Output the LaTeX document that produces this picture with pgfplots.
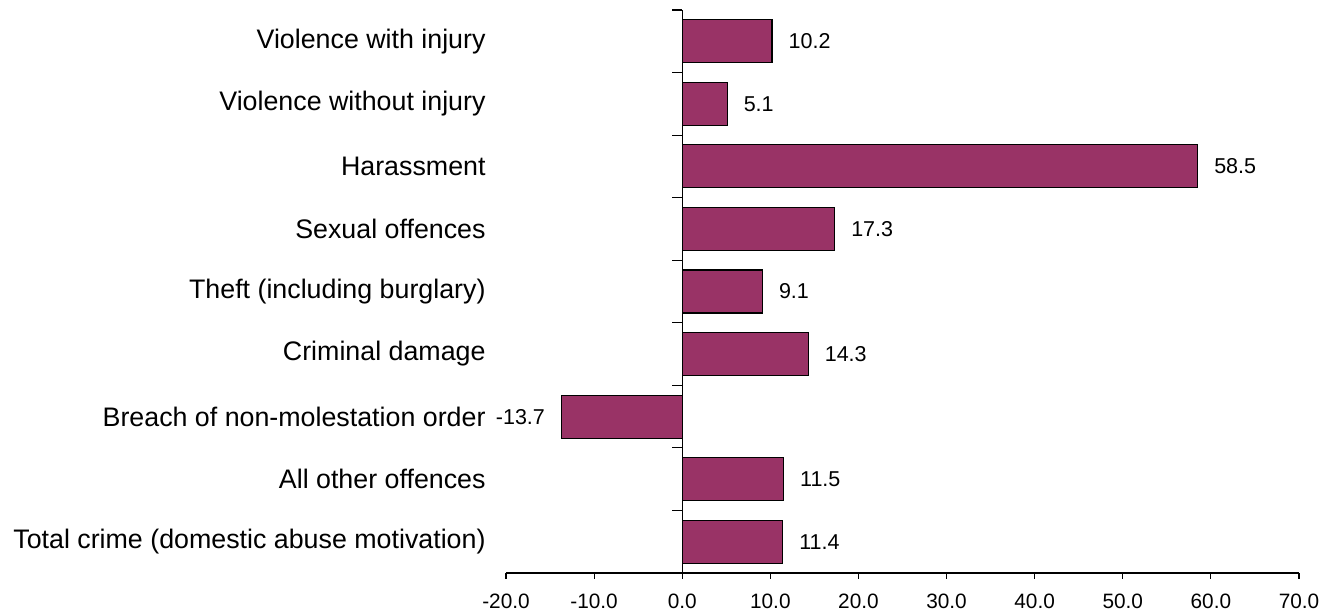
\documentclass[border=0pt]{standalone}
\usepackage{fontspec}
\setmainfont{Liberation Sans}
\usepackage{pgfplots}
\pgfplotsset{compat=1.18}
\definecolor{barc}{RGB}{153,51,102}
\begin{document}
\begin{tikzpicture}
\begin{axis}[
  name=main,
  scale only axis, width=396.5pt, height=281.5pt,
  xmin=-20, xmax=70, ymin=-0.5, ymax=8.5,
  axis x line=bottom, axis y line=left,
  axis line style={-, black, line width=0.6pt},
  y axis line style={draw=none},
  /pgf/number format/assume math mode=true,
  xtick={-20,-10,...,70},
  xticklabel style={/pgf/number format/.cd, fixed, fixed zerofill, precision=1, /tikz/.cd, font=\fontsize{10.4}{12}\selectfont, yshift=-4pt},
  tick align=outside,
  major tick length=3pt,
  xtick style={black, line width=0.6pt},
  ytick={0,...,8},
  yticklabels={Total crime (domestic abuse motivation), All other offences, Breach of non-molestation order, Criminal damage, Theft (including burglary), Sexual offences, Harassment, Violence without injury, Violence with injury},
  ytick style={draw=none},
  yticklabel style={font=\fontsize{13.4}{15}\selectfont, xshift=-3.7pt},
  xbar, bar width=21.5pt,
  nodes near coords,
  nodes near coords style={font=\fontsize{10.75}{12}\selectfont, inner xsep=8pt, /pgf/number format/.cd, fixed, fixed zerofill, precision=1},
]
\addplot[draw=black, fill=barc, line width=0.6pt] coordinates {
  (11.4,0) (11.5,1) (-13.7,2) (14.3,3) (9.1,4) (17.3,5) (58.5,6) (5.1,7) (10.2,8)
};
\coordinate (ll) at (rel axis cs:0,0);
\end{axis}
\begin{axis}[
  scale only axis, width=396.5pt, height=281.5pt,
  xmin=-20, xmax=70, ymin=-0.5, ymax=8.5,
  axis x line=none, axis y line=middle,
  axis line style={-, black, line width=0.6pt},
  xtick=\empty,
  ytick={-0.5,0.5,...,8.5}, yticklabels={},
  tick align=inside, major tick length=5pt,
  ytick style={black, line width=0.6pt, xshift=-5pt},
]
\end{axis}
\pgfresetboundingbox
\path[use as bounding box] (ll) ++(-253pt,-20.5pt) rectangle ++(668.5pt,307pt);
\end{tikzpicture}
\end{document}
